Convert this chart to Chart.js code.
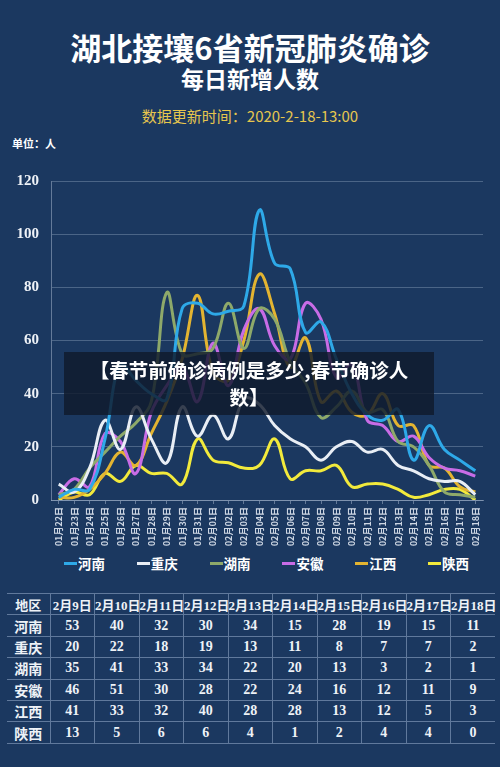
<!DOCTYPE html>
<html>
<head>
<meta charset="utf-8">
<script src="https://cdn.jsdelivr.net/npm/chart.js@4"></script>
<style>
  body { margin: 0; width: 500px; height: 767px; overflow: hidden; background: #1b3860; position: relative;
         font-family: "Noto Sans CJK SC", "Noto Sans", sans-serif; color: #fff; }
  .abs { position: absolute; }
  #title { top: 29px; left: 0; width: 500px; text-align: center; font-size: 31px; line-height: 36px; font-weight: 700; }
  #subtitle { top: 64px; left: 0; width: 500px; text-align: center; font-size: 23px; line-height: 28px; font-weight: 700; }
  #updated { top: 106px; left: 0; width: 500px; text-align: center; font-size: 15px; line-height: 20px; color: #e6c64e; }
  #unit { top: 136px; left: 12px; font-size: 11px; line-height: 14px; font-weight: 700; }
  #chartBox { top: 160px; left: 0; width: 500px; height: 390px; }
  #legend { top: 553px; left: 64px; display: flex; }
  #legend .item { width: 72.8px; display: flex; align-items: center; font-size: 13.5px; font-weight: 700; line-height: 20px; }
  #legend .mark { width: 13px; height: 3px; margin-right: 1px; }
  #overlay { top: 352px; left: 64px; width: 370px; height: 63px; background: rgba(16, 26, 44, 0.82);
             text-align: center; font-size: 19.5px; line-height: 27px; font-weight: 700; padding-top: 4px; box-sizing: border-box; }
  #tbl { top: 593px; left: 7px; width: 488px; border-collapse: collapse; table-layout: fixed; }
  #tbl td { height: 20.4px; padding: 0; text-align: center; border-top: 1px solid rgba(165,185,215,0.5);
            border-bottom: 1px solid rgba(165,185,215,0.5); border-left: 1px solid rgba(165,185,215,0.5);
            font-family: "Liberation Serif", "Noto Sans CJK SC", serif; font-weight: 700; font-size: 14px; white-space: nowrap; color: #eef2f7; }
  #tbl td:first-child { border-left: none; font-family: "Noto Sans CJK SC", sans-serif; font-size: 14px; }
  #tbl tr.head td { font-size: 13px; }
</style>
</head>
<body>
<div id="title" class="abs">湖北接壤6省新冠肺炎确诊</div>
<div id="subtitle" class="abs">每日新增人数</div>
<div id="updated" class="abs">数据更新时间：2020-2-18-13:00</div>
<div id="unit" class="abs">单位：人</div>
<div id="chartBox" class="abs"><canvas id="mainChart" width="500" height="390"></canvas></div>
<div id="legend" class="abs"></div>
<div id="overlay" class="abs">【春节前确诊病例是多少,春节确诊人<br>数】</div>
<table id="tbl" class="abs"></table>
<script>
    const dates = ['01月22日', '01月23日', '01月24日', '01月25日', '01月26日', '01月27日', '01月28日', '01月29日', '01月30日', '01月31日',
        '02月01日', '02月02日', '02月03日', '02月04日', '02月05日', '02月06日', '02月07日', '02月08日', '02月09日', '02月10日',
        '02月11日', '02月12日', '02月13日', '02月14日', '02月15日', '02月16日', '02月17日', '02月18日'];
    const provinces = ['河南', '重庆', '湖南', '安徽', '江西', '陕西'];
    const henan    = [1, 4, 4, 23, 51, 45, 40, 38, 72, 74, 70, 71, 73, 109, 89, 87, 63, 67, 53, 40, 32, 30, 34, 15, 28, 19, 15, 11];
    const chongqing = [6, 3, 12, 30, 19, 35, 23, 14, 35, 24, 32, 23, 38, 36, 28, 23, 20, 15, 20, 22, 18, 19, 13, 11, 8, 7, 7, 2];
    const hunan    = [2, 4, 12, 18, 24, 29, 37, 78, 55, 55, 57, 74, 57, 72, 68, 52, 44, 31, 35, 41, 33, 34, 22, 20, 13, 3, 2, 1];
    const anhui    = [2, 8, 5, 25, 22, 10, 33, 43, 50, 37, 59, 43, 64, 72, 58, 53, 74, 68, 46, 51, 30, 28, 22, 24, 16, 12, 11, 9];
    const jiangxi  = [1, 1, 4, 10, 18, 13, 25, 37, 53, 77, 48, 45, 60, 85, 70, 50, 61, 37, 41, 33, 32, 40, 28, 28, 13, 12, 5, 3];
    const shaanxi  = [0, 3, 2, 10, 7, 13, 10, 10, 6, 23, 15, 14, 12, 13, 23, 8, 11, 11, 13, 5, 6, 6, 4, 1, 2, 4, 4, 0];
    const yTicks = [0, 20, 40, 60, 80, 100, 120];
    const tableDays = ['2月9日', '2月10日', '2月11日', '2月12日', '2月13日', '2月14日', '2月15日', '2月16日', '2月17日', '2月18日'];

    const series = [henan, chongqing, hunan, anhui, jiangxi, shaanxi];
    const colors = ['#2ea9e8', '#e9eef5', '#8ea96a', '#c86ce6', '#e3b431', '#f2ea3c'];
    const gridColor = 'rgba(190, 205, 225, 0.3)';

    const mainChart = new Chart(document.getElementById('mainChart'), {
        type: 'line',
        data: {
            labels: dates,
            datasets: provinces.map((p, i) => ({
                label: p,
                data: series[i],
                borderColor: colors[i],
                backgroundColor: colors[i],
                borderWidth: 3,
                tension: 0.4,
                pointRadius: 0,
                fill: false
            }))
        },
        options: {
            responsive: false,
            animation: false,
            devicePixelRatio: 1,
            layout: { padding: { top: 17, right: 17, left: 0, bottom: 0 } },
            plugins: { legend: { display: false }, tooltip: { enabled: false } },
            scales: {
                y: {
                    min: yTicks[0], max: yTicks[yTicks.length - 1],
                    afterBuildTicks: s => { s.ticks = yTicks.map(v => ({ value: v })); },
                    afterFit: s => { s.width = 51; },
                    ticks: { color: '#eef2f7', padding: 12, font: { family: 'Liberation Serif', size: 15, weight: 'bold' } },
                    grid: { color: gridColor, drawTicks: false },
                    border: { color: 'rgba(190, 205, 225, 0.45)' }
                },
                x: {
                    offset: true,
                    afterFit: s => { s.height = 50; },
                    ticks: { autoSkip: false, maxRotation: 90, minRotation: 90, padding: 3, color: '#cdd6e3',
                             font: { family: 'Noto Sans CJK SC', size: 9, weight: 'bold' } },
                    grid: { drawOnChartArea: false, tickLength: 4, color: 'rgba(190, 205, 225, 0.45)' },
                    border: { color: 'rgba(190, 205, 225, 0.45)' }
                }
            }
        }
    });

    // html legend from the chart's own legend items
    const legendEl = document.getElementById('legend');
    Chart.defaults.plugins.legend.labels.generateLabels(mainChart).forEach(item => {
        const div = document.createElement('div');
        div.className = 'item';
        div.innerHTML = `<span class="mark" style="background:${item.strokeStyle}"></span>${item.text}`;
        legendEl.appendChild(div);
    });

    // table of the last 10 days
    const tbl = document.getElementById('tbl');
    let html = '<colgroup><col style="width:43px">' + tableDays.map(() => '<col style="width:44.5px">').join('') + '</colgroup>';
    html += '<tr class="head"><td>地区</td>' + tableDays.map(d => `<td>${d}</td>`).join('') + '</tr>';
    provinces.forEach((p, i) => {
        html += `<tr><td>${p}</td>` + series[i].slice(dates.length - tableDays.length).map(v => `<td>${v}</td>`).join('') + '</tr>';
    });
    tbl.innerHTML = html;
</script>
</body>
</html>
